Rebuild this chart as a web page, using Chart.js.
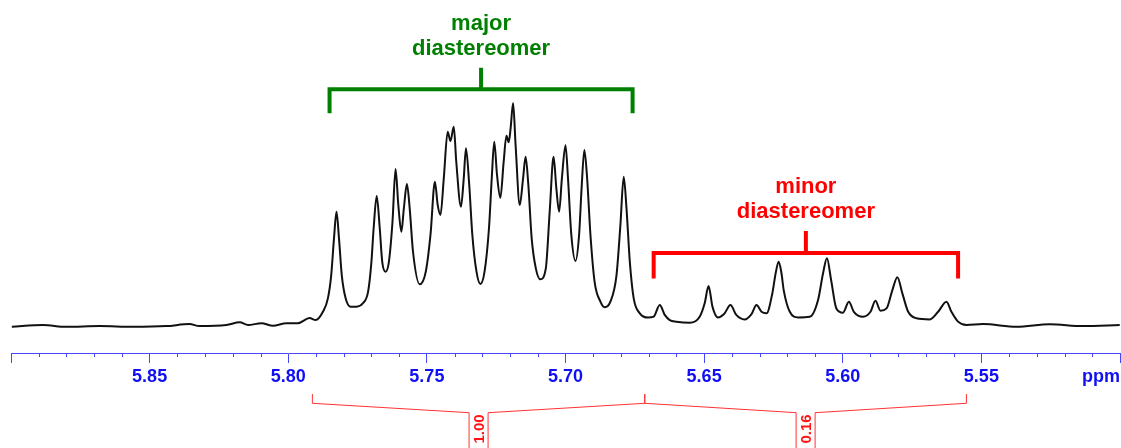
<!DOCTYPE html>
<html>
<head>
<meta charset="utf-8">
<script src="https://cdn.jsdelivr.net/npm/chart.js@4.4.0/dist/chart.umd.min.js"></script>
<style>
  html, body { margin: 0; padding: 0; background: #fff; }
  #wrap { width: 1121px; height: 448px; }
</style>
</head>
<body>
<div id="wrap"><canvas id="nmr" width="1121" height="448"></canvas></div>
<script>
// chemical shift (ppm) and intensity
var shifts = [
  5.8997, 5.8885, 5.8801, 5.8680, 5.8560, 5.8440, 5.8356, 5.8320, 5.8223, 5.8175,
  5.8145, 5.8097, 5.8055, 5.8007, 5.7965, 5.7923, 5.7901, 5.7875, 5.7857, 5.7845,
  5.7835, 5.7826, 5.7817, 5.7807, 5.7793, 5.7776, 5.7754, 5.7731, 5.7712, 5.7700,
  5.7692, 5.7681, 5.7670, 5.7661, 5.7649, 5.7637, 5.7624, 5.7613, 5.7603, 5.7592,
  5.7583, 5.7572, 5.7562, 5.7550, 5.7526, 5.7504, 5.7487, 5.7471, 5.7461, 5.7451,
  5.7439, 5.7425, 5.7415, 5.7403, 5.7394, 5.7377, 5.7367, 5.7359, 5.7348, 5.7336,
  5.7321, 5.7307, 5.7292, 5.7276, 5.7266, 5.7257, 5.7247, 5.7235, 5.7223, 5.7213,
  5.7205, 5.7198, 5.7189, 5.7180, 5.7165, 5.7153, 5.7144, 5.7134, 5.7122, 5.7107,
  5.7091, 5.7071, 5.7057, 5.7043, 5.7033, 5.7023, 5.7013, 5.7000, 5.6991, 5.6979,
  5.6964, 5.6951, 5.6942, 5.6932, 5.6922, 5.6910, 5.6895, 5.6874, 5.6859, 5.6838,
  5.6816, 5.6802, 5.6790, 5.6780, 5.6768, 5.6754, 5.6732, 5.6702, 5.6682, 5.6660,
  5.6642, 5.6624, 5.6600, 5.6552, 5.6516, 5.6498, 5.6484, 5.6470, 5.6450, 5.6428,
  5.6405, 5.6384, 5.6354, 5.6329, 5.6311, 5.6293, 5.6275, 5.6254, 5.6242, 5.6231,
  5.6221, 5.6213, 5.6191, 5.6161, 5.6119, 5.6089, 5.6071, 5.6057, 5.6042, 5.6023,
  5.5999, 5.5978, 5.5960, 5.5927, 5.5900, 5.5882, 5.5864, 5.5842, 5.5821, 5.5803,
  5.5785, 5.5764, 5.5734, 5.5686, 5.5656, 5.5626, 5.5608, 5.5584, 5.5554, 5.5494,
  5.5373, 5.5253, 5.5134, 5.5001
];
var intensities = [
  0.1, 0.9, 0.1, 0.4, 0.1, 0.4, 1.3, 0.4, 0.9, 2.1,
  0.9, 1.7, 0.6, 1.7, 1.7, 4.0, 3.1, 6.8, 12.8, 23.2,
  39.6, 51.5, 39.6, 23.2, 12.8, 9.1, 9.1, 10.6, 15.8, 29.1,
  44.1, 58.5, 44.1, 29.1, 24.7, 29.1, 47.0, 70.5, 54.5, 42.5,
  53.0, 63.8, 53.0, 33.6, 19.1, 24.7, 41.1, 64.9, 54.5, 50.0,
  66.4, 87.2, 83.0, 89.4, 73.8, 53.7, 66.4, 79.8, 64.9, 41.1,
  24.7, 19.2, 24.7, 44.1, 66.4, 82.7, 67.9, 57.7, 73.8, 85.4,
  82.5, 88.7, 100.0, 81.2, 54.5, 66.4, 76.0, 63.4, 39.6, 26.2,
  21.3, 26.2, 51.5, 76.0, 61.9, 51.5, 66.4, 81.2, 66.4, 41.1,
  29.5, 41.1, 61.9, 79.0, 66.4, 41.1, 20.2, 11.3, 8.8, 11.3,
  23.2, 45.5, 67.1, 53.0, 29.1, 12.8, 6.1, 4.2, 4.6, 9.8,
  5.4, 3.1, 2.4, 1.9, 4.6, 10.6, 18.3, 9.1, 4.3, 5.8,
  9.8, 5.4, 3.4, 5.8, 9.8, 6.8, 6.1, 15.0, 24.0, 29.1,
  24.0, 16.5, 6.8, 4.3, 4.6, 12.1, 24.0, 30.7, 21.0, 8.3,
  6.4, 11.3, 6.8, 4.6, 6.8, 11.7, 7.3, 8.3, 16.5, 22.2,
  15.0, 6.8, 3.9, 3.4, 6.8, 11.3, 6.8, 2.4, 0.9, 1.3,
  0.1, 1.2, 0.4, 0.9
];

// axis ticks (ascending), the last label slot holds the unit
var tickValues = [5.50, 5.55, 5.60, 5.65, 5.70, 5.75, 5.80, 5.85, 5.90];
var tickLabels = ["ppm", "5.55", "5.60", "5.65", "5.70", "5.75", "5.80", "5.85", ""];

// diastereomer brackets
var groupNames = [["major", "diastereomer"], ["minor", "diastereomer"]];
var groupFrom = [5.7851, 5.6682];
var groupTo = [5.6758, 5.5584];

// integrals
var integralFrom = [5.7913, 5.6714];
var integralTo = [5.6714, 5.5554];
var integralValues = ["1.00", "0.16"];

var axisBlue = "rgb(70,70,255)";
var labelBlue = "#1010f4";

var bracketStyle = [
  { color: "#008000", bar: 106.1, end: 95.4, top: 115.8 },
  { color: "#ff0000", bar: 33.0, end: 21.7, top: 42.9 }
];

var spectrumPoints = shifts.map(function(s, i) {
  return { x: s, y: intensities[i] };
});

var decor = {
  id: "decor",
  afterDraw: function(chart) {
    var ctx = chart.ctx;
    var xs = chart.scales.x;
    var ys = chart.scales.y;
    var axisY = xs.top;
    ctx.save();

    // minor ticks, every 0.01 ppm
    ctx.strokeStyle = axisBlue;
    ctx.lineWidth = 1;
    var lo = tickValues[0], hi = tickValues[tickValues.length - 1];
    var n = Math.round((hi - lo) / 0.01);
    for (var i = 1; i < n; i++) {
      if (i % 5 === 0) continue;
      var px = Math.round(xs.getPixelForValue(lo + i * 0.01)) + 0.5;
      ctx.beginPath();
      ctx.moveTo(px, axisY);
      ctx.lineTo(px, axisY + 4);
      ctx.stroke();
    }

    // brackets over the two multiplets
    groupNames.forEach(function(lines, g) {
      var st = bracketStyle[g];
      var x1 = xs.getPixelForValue(groupFrom[g]);
      var x2 = xs.getPixelForValue(groupTo[g]);
      var xm = (x1 + x2) / 2;
      var yBar = ys.getPixelForValue(st.bar);
      var yEnd = ys.getPixelForValue(st.end);
      var yTop = ys.getPixelForValue(st.top);
      ctx.strokeStyle = st.color;
      ctx.lineWidth = 4;
      ctx.lineJoin = "miter";
      ctx.beginPath();
      ctx.moveTo(x1, yEnd);
      ctx.lineTo(x1, yBar);
      ctx.lineTo(x2, yBar);
      ctx.lineTo(x2, yEnd);
      ctx.moveTo(xm, yBar);
      ctx.lineTo(xm, yTop);
      ctx.stroke();
      ctx.fillStyle = st.color;
      ctx.font = "bold 22px 'Liberation Sans', Arial, sans-serif";
      ctx.textAlign = "center";
      ctx.textBaseline = "alphabetic";
      ctx.fillText(lines[0], xm, yTop - 37.5);
      ctx.fillText(lines[1], xm, yTop - 12.5);
    });

    // integral marks under the axis
    ctx.strokeStyle = "rgb(255,50,50)";
    ctx.fillStyle = "rgb(255,20,20)";
    ctx.lineWidth = 1;
    integralValues.forEach(function(val, k) {
      var a = xs.getPixelForValue(integralFrom[k]);
      var b = xs.getPixelForValue(integralTo[k]);
      var c = (a + b) / 2;
      var yTick = axisY + 41, yEnd = axisY + 50.3, yBox = axisY + 59.7;
      ctx.beginPath();
      ctx.moveTo(a, yTick); ctx.lineTo(a, yEnd);
      ctx.lineTo(c - 9.5, yBox); ctx.lineTo(c - 9.5, chart.height);
      ctx.moveTo(b, yTick); ctx.lineTo(b, yEnd);
      ctx.lineTo(c + 9.5, yBox); ctx.lineTo(c + 9.5, chart.height);
      ctx.stroke();
      ctx.save();
      ctx.translate(c, axisY + 76);
      ctx.rotate(-Math.PI / 2);
      ctx.font = "bold 15px 'Liberation Sans', Arial, sans-serif";
      ctx.textAlign = "center";
      ctx.textBaseline = "middle";
      ctx.fillText(val, 0, 1);
      ctx.restore();
    });

    ctx.restore();
  }
};

new Chart(document.getElementById("nmr").getContext("2d"), {
  type: "line",
  data: {
    datasets: [{
      data: spectrumPoints,
      borderColor: "#111",
      borderWidth: 2,
      pointRadius: 0,
      fill: false,
      cubicInterpolationMode: "monotone"
    }]
  },
  options: {
    responsive: false,
    animation: false,
    devicePixelRatio: 1,
    layout: { padding: { left: 11, right: 1, top: 0, bottom: 0 } },
    plugins: {
      legend: { display: false },
      tooltip: { enabled: false }
    },
    scales: {
      x: {
        type: "linear",
        reverse: true,
        min: 5.50,
        max: 5.90,
        afterBuildTicks: function(scale) {
          scale.ticks = tickValues.map(function(v) { return { value: v }; });
        },
        afterFit: function(scale) { scale.height = 95; },
        border: { color: axisBlue, width: 1 },
        grid: {
          drawOnChartArea: false,
          drawTicks: true,
          tickLength: 10,
          color: axisBlue
        },
        ticks: {
          autoSkip: false,
          maxRotation: 0,
          minRotation: 0,
          align: "inner",
          padding: 3,
          color: labelBlue,
          font: { family: "'Liberation Sans', Arial, sans-serif", size: 18, weight: "bold" },
          callback: function(value, index) { return tickLabels[index]; }
        }
      },
      y: {
        display: false,
        min: -11.6,
        max: 146.0
      }
    }
  },
  plugins: [decor]
});
</script>
</body>
</html>
